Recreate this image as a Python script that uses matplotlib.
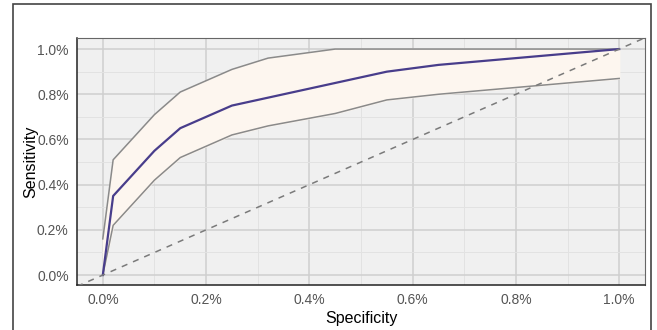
import numpy as np
import matplotlib.pyplot as plt
from matplotlib.patches import Rectangle
from matplotlib.ticker import FixedLocator

plt.rcParams['font.family'] = ['Liberation Sans', 'DejaVu Sans']

# ROC curve with confidence band
spec = [0.0, 0.02, 0.10, 0.15, 0.25, 0.32, 0.45, 0.55, 0.65, 1.0]
sens = [0.0, 0.35, 0.55, 0.65, 0.75, 0.785, 0.85, 0.90, 0.93, 1.0]
upper = [0.16, 0.51, 0.71, 0.81, 0.91, 0.96, 1.0, 1.0, 1.0, 1.0]
lower = [0.0, 0.22, 0.42, 0.52, 0.62, 0.66, 0.715, 0.775, 0.80, 0.87]

ticks = [0.0, 0.2, 0.4, 0.6, 0.8, 1.0]
tick_labels = ['0.0%', '0.2%', '0.4%', '0.6%', '0.8%', '1.0%']

fig = plt.figure(figsize=(6.57, 3.30), dpi=100)
ax = fig.add_axes([77 / 657, 45 / 330, 568 / 657, 247 / 330])
ax.set_facecolor('#f0f0f0')

ax.fill_between(spec, lower, upper, color='#fdf6ef', zorder=2)
ax.plot(spec, upper, color='#8a8a8a', lw=1.1, zorder=3)
ax.plot(spec, lower, color='#8a8a8a', lw=1.1, zorder=3)
ax.plot(spec, sens, color='#483d8b', lw=1.6, zorder=4)
ax.plot([-0.05, 1.05], [-0.05, 1.05], color='#7a7a7a', lw=1.1,
        ls=(0, (4, 4)), zorder=5)

ax.set_xlim(-0.05, 1.05)
ax.set_ylim(-0.044, 1.049)
ax.set_xticks(ticks)
ax.set_xticklabels(tick_labels)
ax.set_yticks(ticks)
ax.set_yticklabels(tick_labels)
ax.xaxis.set_minor_locator(FixedLocator([0.1, 0.3, 0.5, 0.7, 0.9]))
ax.yaxis.set_minor_locator(FixedLocator([0.1, 0.3, 0.5, 0.7, 0.9]))
ax.grid(which='major', color='#cfcfcf', lw=1.1, zorder=1)
ax.grid(which='minor', color='#e2e2e2', lw=0.7, zorder=1)
ax.set_axisbelow(True)

for side in ['top', 'right']:
    ax.spines[side].set_color('#666666')
    ax.spines[side].set_linewidth(0.8)
for side in ['left', 'bottom']:
    ax.spines[side].set_color('#222222')
    ax.spines[side].set_linewidth(1.1)

ax.tick_params(which='both', length=0, labelsize=10, labelcolor='#555555', pad=6)
ax.set_xlabel('Specificity', fontsize=11.5, labelpad=3)
ax.set_ylabel('Sensitivity', fontsize=11.5, labelpad=-1)

fig.add_artist(Rectangle((13 / 657, -0.1), 638 / 657, 1.1 - 4 / 330,
                         transform=fig.transFigure, fill=False,
                         edgecolor='#444444', lw=1.2))

fig.savefig('out.png', dpi=100)
